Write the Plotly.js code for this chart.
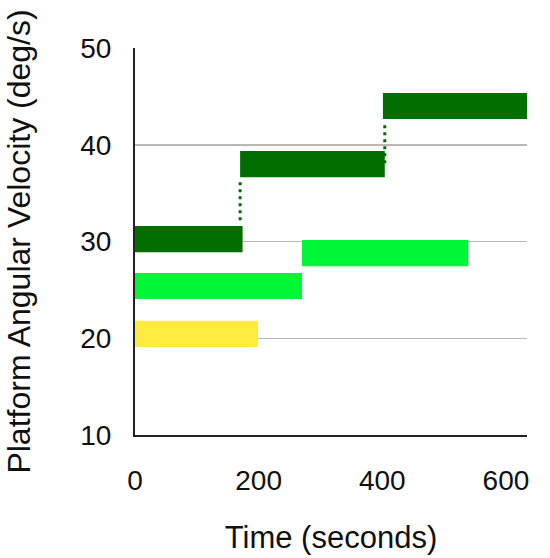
<!DOCTYPE html>
<html>
<head>
<meta charset="utf-8">
<script src="https://cdn.plot.ly/plotly-3.0.1.min.js"></script>
<style>html,body{margin:0;padding:0;background:#fff;}#chart{width:550px;height:558px;}</style>
</head>
<body>
<div id="chart"></div>
<script>
// Dark green series (time intervals and velocity levels)
const darkStart = [0, 170, 401];
const darkEnd   = [174, 404, 634];
const darkLevel = [30.25, 38.0, 44.0];
// Light green series
const lightStart = [0, 270];
const lightEnd   = [270, 539];
const lightLevel = [25.4, 28.8];
// Yellow series
const yellowStart = [0];
const yellowEnd   = [199];
const yellowLevel = [20.45];
// Dotted connectors between dark green steps
const connX = [170, 170, null, 404, 404];
const connY = [32.2, 36.5, null, 38.1, 42.4];
// Axis ticks
const xTicks = [0, 200, 400, 600];
const yTicks = [10, 20, 30, 40, 50];

const barH = 2.7;
function dur(s, e) { return e.map((v, i) => v - s[i]); }
function barTrace(s, e, lvl, color) {
  return {
    type: 'bar', orientation: 'h',
    base: s, x: dur(s, e), y: lvl,
    width: lvl.map(() => barH),
    marker: {color: color, line: {width: 0}},
    hoverinfo: 'skip', showlegend: false
  };
}
const traces = [
  barTrace(yellowStart, yellowEnd, yellowLevel, '#FFEA40'),
  barTrace(lightStart, lightEnd, lightLevel, '#00F737'),
  barTrace(darkStart, darkEnd, darkLevel, '#006F00'),
  {type: 'scatter', mode: 'lines', x: connX, y: connY,
   line: {color: '#006F00', width: 3, dash: '3px,4px'},
   hoverinfo: 'skip', showlegend: false, connectgaps: false}
];
const font = 'Liberation Sans, Arial, Helvetica, sans-serif';
const layout = {
  width: 550, height: 558,
  margin: {l: 135, r: 23, t: 48, b: 123},
  paper_bgcolor: '#fff', plot_bgcolor: '#fff',
  barmode: 'overlay',
  font: {family: font, color: '#111'},
  xaxis: {
    range: [0, 634], tickvals: xTicks, ticktext: xTicks.map(String),
    showgrid: false, zeroline: false,
    showline: true, linecolor: '#222', linewidth: 2,
    ticks: '', ticklabelstandoff: 19,
    tickfont: {size: 28, family: font, color: '#111'},
    title: {text: 'Time (seconds)', font: {size: 31, family: font, color: '#111'}, standoff: 32}
  },
  yaxis: {
    range: [10, 50], tickvals: yTicks, ticktext: yTicks.map(String),
    showgrid: true, gridcolor: '#b8b8b8', gridwidth: 1.5,
    zeroline: false,
    showline: true, linecolor: '#222', linewidth: 2,
    ticks: '', ticklabelstandoff: 16,
    tickfont: {size: 28, family: font, color: '#111'},
    title: {text: 'Platform Angular Velocity (deg/s)', font: {size: 32, family: font, color: '#111'}, standoff: 40}
  }
};
Plotly.newPlot('chart', traces, layout, {displayModeBar: false, staticPlot: true});
</script>
</body>
</html>
